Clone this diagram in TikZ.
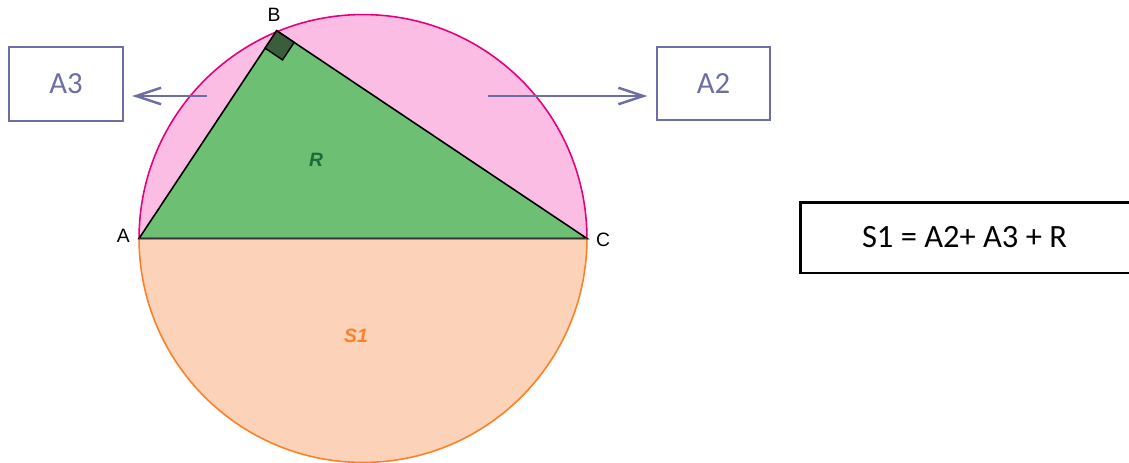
\documentclass[tikz,border=0pt]{standalone}
\usepackage{fontspec}
\setmainfont{Carlito}
\newfontfamily\arialfont{Liberation Sans}
\usepackage{tikz}
\usetikzlibrary{arrows.meta,positioning,calc}

\definecolor{boxline}{HTML}{6E6EA6}
\definecolor{pinkfill}{HTML}{FBBDE3}
\definecolor{pinkline}{HTML}{E6007E}
\definecolor{peachfill}{HTML}{FCD3B8}
\definecolor{peachline}{HTML}{FF7F27}
\definecolor{trifill}{HTML}{6DBF73}
\definecolor{sqfill}{HTML}{3A5E3C}
\definecolor{rtext}{HTML}{1E6B3A}

\begin{document}
\begin{tikzpicture}[
  x=0.02cm,y=-0.02cm,
  areabox/.style={draw=boxline,line width=1.1pt,minimum width=2.27cm,minimum height=1.47cm,
    inner sep=0pt,text=boxline,font=\fontsize{17.5}{20}\selectfont},
  arr/.style={-{Straight Barb[length=5mm,width=3.3mm,line width=1.4pt]},draw=boxline,
    line width=1.4pt,shorten >=0.17cm},
  vert/.style={font=\arialfont\fontsize{11}{13}\selectfont},
  region/.style={font=\arialfont\bfseries\itshape\fontsize{11}{13}\selectfont}
]
  \useasboundingbox (0,0) rectangle (1129,463);
  \coordinate (O) at (363,238.5);
  \coordinate (A) at (139,238.5);
  \coordinate (C) at (587,238.5);
  \coordinate (B) at (276.7,30.7);
  % upper half
  \begin{scope}
    \clip (0,0) rectangle (1129,238.5);
    \fill[pinkfill] (O) circle[radius=4.48cm];
    \draw[pinkline,line width=0.9pt] (O) circle[radius=4.48cm];
  \end{scope}
  % lower half
  \begin{scope}
    \clip (0,238.5) rectangle (1129,463);
    \fill[peachfill] (O) circle[radius=4.48cm];
    \draw[peachline,line width=0.9pt] (O) circle[radius=4.48cm];
  \end{scope}
  % right triangle
  \filldraw[fill=trifill,draw=black,line width=0.9pt] (A) -- (B) -- (C) -- cycle;
  \filldraw[fill=sqfill,draw=black,line width=0.8pt] (B) -- ($(B)!0.42cm!(C)$)
    -- ($($(B)!0.42cm!(C)$)+($(B)!0.42cm!(A)$)-(B)$) -- ($(B)!0.42cm!(A)$) -- cycle;
  \draw[black!80,line width=1pt] (A) -- (C);
  \node[vert,anchor=east] (la) at (136,236) {A};
  \node[vert] (lb) at (274,15) {B};
  \node[vert,anchor=west] (lc) at (590,240) {C};
  \node[region,text=rtext] (lr) at (316,160) {R};
  \node[region,text=peachline] (ls) at (356,336) {S1};
  % boxes
  \node[areabox] (a3) at (66,84) {A3};
  \node[areabox] (a2) at (713.5,83.5) {A2};
  \coordinate (a3from) at (207,96);
  \coordinate (a2from) at (488,96);
  \draw[arr] (a3from) -- (a3.east |- a3from);
  \draw[arr] (a2from) -- (a2.west |- a2from);
  \node[draw=black,line width=1.7pt,anchor=west,minimum width=7.2cm,minimum height=1.42cm,
    font=\fontsize{18.5}{22}\selectfont] (sum) at (799,237.5) {S1 = A2+ A3 + R\rule{0.64cm}{0pt}};
\end{tikzpicture}
\end{document}
